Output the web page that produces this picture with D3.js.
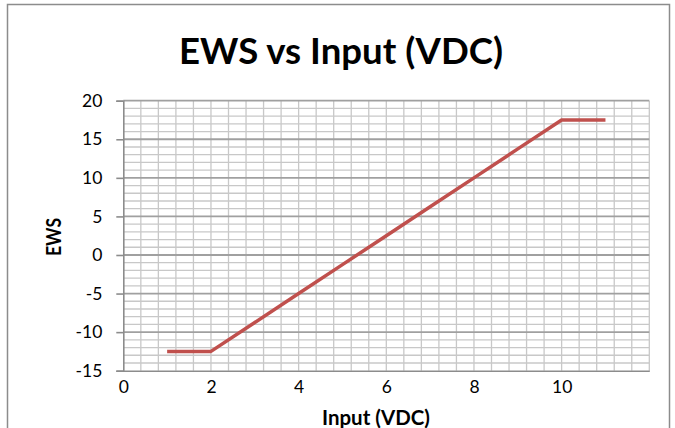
<!DOCTYPE html>
<html>
<head>
<meta charset="utf-8">
<script src="https://cdn.jsdelivr.net/npm/d3@7"></script>
<style>
  html, body { margin: 0; padding: 0; background: #fff; }
  svg { display: block; }
  text { font-family: Lato, "Open Sans", sans-serif; fill: #000; }
</style>
</head>
<body>
<div id="chart"></div>
<script>
// ---- data ----
const inputVDC = [1, 2, 3, 4, 5, 6, 7, 8, 9, 10, 11];
const ews = [-12.5, -12.5, -8.75, -5, -1.25, 2.5, 6.25, 10, 13.75, 17.5, 17.5];
const xTickValues = [0, 2, 4, 6, 8, 10];
const yTickValues = [-15, -10, -5, 0, 5, 10, 15, 20];
const titleText = "EWS vs Input (VDC)";
const xTitle = "Input (VDC)";
const yTitle = "EWS";

const W = 675, H = 428;
const svg = d3.select("#chart").append("svg").attr("width", W).attr("height", H);

// chart area border
svg.append("rect").attr("x", 7.5).attr("y", 4.5).attr("width", 662).attr("height", 440)
  .attr("fill", "#fff").attr("stroke", "#8c8c8c").attr("stroke-width", 1.5);

const x = d3.scaleLinear().domain([0, 12]).range([123.3, 649.3]);
const y = d3.scaleLinear().domain([-15, 20]).range([370.7, 100.7]);

// minor gridlines
const g = svg.append("g");
g.selectAll("line.vminor").data(d3.range(0.4, 12.001, 0.4)).join("line")
  .attr("x1", d => x(d)).attr("x2", d => x(d))
  .attr("y1", y(-15)).attr("y2", y(20))
  .attr("stroke", "#c8c8c8").attr("stroke-width", 1.3);
g.selectAll("line.hminor").data(d3.range(-14, 20.001, 1).filter(v => v % 5 !== 0)).join("line")
  .attr("x1", x(0)).attr("x2", x(12))
  .attr("y1", d => y(d)).attr("y2", d => y(d))
  .attr("stroke", "#c8c8c8").attr("stroke-width", 1.3);
// major horizontal gridlines
g.selectAll("line.hmajor").data(yTickValues.filter(v => v !== -15)).join("line")
  .attr("x1", x(0)).attr("x2", x(12))
  .attr("y1", d => y(d)).attr("y2", d => y(d))
  .attr("stroke", "#a0a0a0").attr("stroke-width", 1.8);

const fmt = d => String(d);

// y axis
const yAxis = svg.append("g").attr("transform", `translate(${x(0)},0)`)
  .call(d3.axisLeft(y).tickValues(yTickValues).tickSize(7).tickPadding(14).tickFormat(fmt));
yAxis.select(".domain").attr("stroke", "#8c8c8c").attr("stroke-width", 1.6);
yAxis.selectAll(".tick line").attr("stroke", "#8c8c8c").attr("stroke-width", 1.6);
yAxis.selectAll(".tick text").style("font-size", "17.5px").attr("fill", "#000")
  .style("font-family", "Lato, sans-serif");

// x axis
const xAxis = svg.append("g").attr("transform", `translate(0,${y(-15)})`)
  .call(d3.axisBottom(x).tickValues(xTickValues).tickSize(0).tickPadding(10).tickFormat(fmt));
xAxis.select(".domain").attr("stroke", "#8c8c8c").attr("stroke-width", 1.6);
xAxis.selectAll(".tick text").style("font-size", "17.5px").attr("fill", "#000")
  .style("font-family", "Lato, sans-serif");

// line
const line = d3.line().x((d, i) => x(inputVDC[i])).y(d => y(d));
svg.append("path").datum(ews).attr("d", line)
  .attr("fill", "none").attr("stroke", "#C0504D").attr("stroke-width", 3.5)
  .attr("stroke-linejoin", "round").attr("stroke-linecap", "butt");

// titles
svg.append("text").attr("x", 341).attr("y", 64).attr("text-anchor", "middle")
  .style("font-size", "36px").style("font-weight", "bold")
  .attr("textLength", 324).attr("lengthAdjust", "spacingAndGlyphs")
  .text(titleText);
svg.append("text").attr("x", 376).attr("y", 425).attr("text-anchor", "middle")
  .style("font-size", "21px").style("font-weight", "bold")
  .attr("textLength", 108).attr("lengthAdjust", "spacingAndGlyphs")
  .text(xTitle);
svg.append("text").attr("transform", "translate(61,237) rotate(-90)").attr("text-anchor", "middle")
  .style("font-size", "21px").style("font-weight", "bold")
  .attr("textLength", 38).attr("lengthAdjust", "spacingAndGlyphs")
  .text(yTitle);
</script>
</body>
</html>
